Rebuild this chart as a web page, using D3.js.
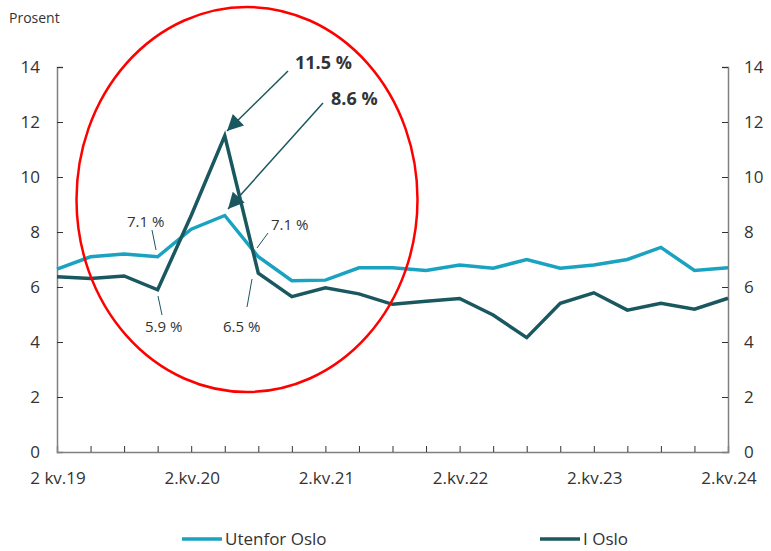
<!DOCTYPE html>
<html><head><meta charset="utf-8">
<script src="https://cdn.jsdelivr.net/npm/d3@7"></script>
<style>body{margin:0;background:#fff;}svg{display:block;font-family:"Open Sans",sans-serif;}</style>
</head><body><svg id="c" width="771" height="551"></svg>
<script>
const quarters = ["2 kv.19","3 kv.19","4 kv.19","1 kv.20","2.kv.20","3 kv.20","4 kv.20","1 kv.21","2.kv.21","3 kv.21","4 kv.21","1 kv.22","2.kv.22","3 kv.22","4 kv.22","1 kv.23","2.kv.23","3 kv.23","4 kv.23","1 kv.24","2.kv.24"];
const utenforOslo = [6.65,7.1,7.2,7.1,8.1,8.6,7.1,6.23,6.25,6.7,6.7,6.6,6.8,6.68,7.0,6.68,6.8,7.0,7.44,6.6,6.7];
const iOslo = [6.37,6.31,6.4,5.9,8.6,11.5,6.5,5.65,5.97,5.75,5.37,5.48,5.58,4.98,4.16,5.41,5.79,5.16,5.41,5.19,5.59];
const labelQuarters = ["2 kv.19","2.kv.20","2.kv.21","2.kv.22","2.kv.23","2.kv.24"];
const yTicks = [0,2,4,6,8,10,12,14];
const seriesNames = ["Utenfor Oslo","I Oslo"];
const colors = ["#19a3c0","#1a5860"];

const svg = d3.select("#c");
const x = d3.scalePoint().domain(quarters).range([57,728]);
const y = d3.scaleLinear().domain([0,14]).range([452,67]);
const textCol = "#333";
const axisCol = "#808080";

// axes
const gl = svg.append("g").attr("transform","translate(57,0)")
  .call(d3.axisRight(y).tickValues(yTicks).tickSize(6).tickFormat(""));
const gr = svg.append("g").attr("transform","translate(728,0)")
  .call(d3.axisLeft(y).tickValues(yTicks).tickSize(6).tickFormat(""));
const gb = svg.append("g").attr("transform","translate(0,452)")
  .call(d3.axisTop(x).tickSize(6).tickFormat(""));
[gl,gr,gb].forEach(g=>{g.selectAll("path").attr("stroke",axisCol).attr("stroke-width",1.5);
  g.selectAll("line").attr("stroke","#333");});
gb.selectAll(".tick").filter(d=>d===quarters[0]||d===quarters[quarters.length-1]).remove();

// y tick labels
svg.append("g").selectAll("text").data(yTicks).join("text")
  .attr("x",40).attr("y",d=>y(d)).attr("dy","0.35em").attr("text-anchor","end")
  .attr("font-size",17).attr("fill",textCol).text(d=>d);
svg.append("g").selectAll("text").data(yTicks).join("text")
  .attr("x",744).attr("y",d=>y(d)).attr("dy","0.35em").attr("text-anchor","start")
  .attr("font-size",17).attr("fill",textCol).text(d=>d);
svg.append("text").attr("x",9).attr("y",23).attr("font-size",14).attr("fill",textCol).text("Prosent");

// x labels
svg.append("g").selectAll("text").data(labelQuarters).join("text")
  .attr("x",d=>x(d)+1).attr("y",484).attr("text-anchor","middle")
  .attr("font-size",17).attr("fill",textCol).text(d=>d);

// lines
const line = d3.line().x((d,i)=>x(quarters[i])).y(d=>y(d));
[utenforOslo,iOslo].forEach((s,k)=>{
  svg.append("path").datum(s).attr("d",line).attr("fill","none")
    .attr("stroke",colors[k]).attr("stroke-width",3.5).attr("stroke-linejoin","miter");
});

// red ellipse
svg.append("ellipse").attr("cx",247).attr("cy",199.5).attr("rx",170.5).attr("ry",192.5)
  .attr("fill","none").attr("stroke","#ff0000").attr("stroke-width",2.5);

// arrows
const defs = svg.append("defs");
defs.append("marker").attr("id","ah").attr("viewBox","0 0 10 10").attr("refX",10).attr("refY",5)
  .attr("markerWidth",13).attr("markerHeight",13).attr("markerUnits","userSpaceOnUse")
  .attr("orient","auto")
  .append("path").attr("d","M0,0 L10,5 L0,10 z").attr("fill","#1a5860");
defs.select("marker").attr("markerWidth",18).attr("markerHeight",16);
svg.append("line").attr("x1",288).attr("y1",71).attr("x2",227).attr("y2",131)
  .attr("stroke","#1a5860").attr("stroke-width",1.5).attr("marker-end","url(#ah)");
svg.append("line").attr("x1",323).attr("y1",103).attr("x2",228).attr("y2",209)
  .attr("stroke","#1a5860").attr("stroke-width",1.5).attr("marker-end","url(#ah)");
svg.append("text").attr("x",295).attr("y",69).attr("font-size",18).attr("font-weight","bold")
  .attr("fill",textCol).text("11.5 %");
svg.append("text").attr("x",331).attr("y",105).attr("font-size",18).attr("font-weight","bold")
  .attr("fill",textCol).text("8.6 %");

// small annotations
const ann = [
  {t:"7.1 %", tx:127, ty:227, x1:152,y1:230,x2:156,y2:250},
  {t:"5.9 %", tx:145, ty:332, x1:158,y1:296,x2:162,y2:315},
  {t:"6.5 %", tx:223, ty:332, x1:252,y1:279,x2:247,y2:307},
  {t:"7.1 %", tx:271, ty:230, x1:268,y1:233,x2:257,y2:248}
];
ann.forEach(a=>{
  svg.append("line").attr("x1",a.x1).attr("y1",a.y1).attr("x2",a.x2).attr("y2",a.y2)
    .attr("stroke","#1a5860").attr("stroke-width",1);
  svg.append("text").attr("x",a.tx).attr("y",a.ty).attr("font-size",15).attr("fill",textCol).text(a.t);
});

// legend
const leg = [{x:182},{x:540}];
seriesNames.forEach((n,k)=>{
  svg.append("line").attr("x1",leg[k].x).attr("x2",leg[k].x+40).attr("y1",539).attr("y2",539)
    .attr("stroke",colors[k]).attr("stroke-width",3.5);
  svg.append("text").attr("x",leg[k].x+43).attr("y",545).attr("font-size",17).attr("fill",textCol).text(n);
});
</script></body></html>
